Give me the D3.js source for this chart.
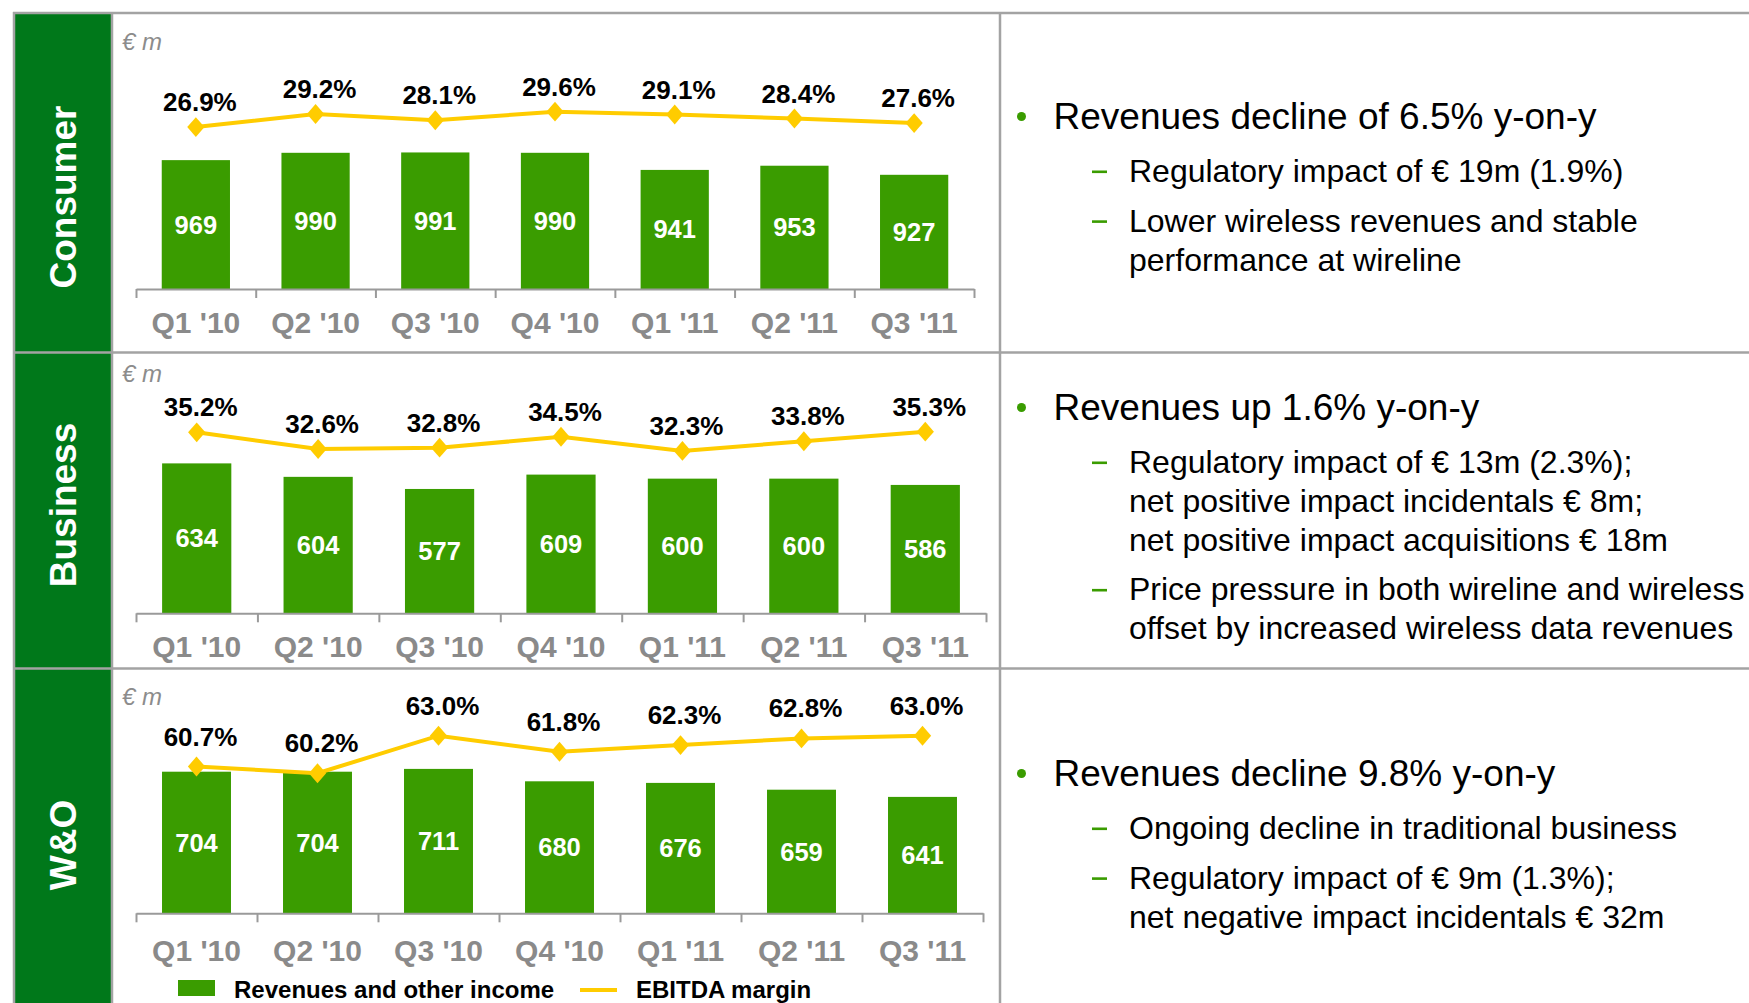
<!DOCTYPE html>
<html>
<head>
<meta charset="utf-8">
<script src="https://cdn.jsdelivr.net/npm/d3@7"></script>
<style>
  body { margin: 0; background: #fff; }
  svg text { font-family: Arial, "Liberation Sans", sans-serif; }
</style>
</head>
<body>
<div id="chart"></div>
<script>
(function(){
  // data
  const quarters = ["Q1 '10", "Q2 '10", "Q3 '10", "Q4 '10", "Q1 '11", "Q2 '11", "Q3 '11"];
  const segments = ["Consumer", "Business", "W&O"];

  const consumerRevenue = [969, 990, 991, 990, 941, 953, 927];
  const consumerMargin = [26.9, 29.2, 28.1, 29.6, 29.1, 28.4, 27.6];
  const businessRevenue = [634, 604, 577, 609, 600, 600, 586];
  const businessMargin = [35.2, 32.6, 32.8, 34.5, 32.3, 33.8, 35.3];
  const woRevenue = [704, 704, 711, 680, 676, 659, 641];
  const woMargin = [60.7, 60.2, 63.0, 61.8, 62.3, 62.8, 63.0];

  const legendLabels = ["Revenues and other income", "EBITDA margin"];
  const unitLabel = "€ m";

  const consumerHead = "Revenues decline of 6.5% y-on-y";
  const consumerSubs = [
    ["Regulatory impact of € 19m (1.9%)"],
    ["Lower wireless revenues and stable", "performance at wireline"]
  ];
  const businessHead = "Revenues up 1.6% y-on-y";
  const businessSubs = [
    ["Regulatory impact of € 13m (2.3%);", "net positive impact incidentals € 8m;", "net positive impact acquisitions € 18m"],
    ["Price pressure in both wireline and wireless", "offset by increased wireless data revenues"]
  ];
  const woHead = "Revenues decline 9.8% y-on-y";
  const woSubs = [
    ["Ongoing decline in traditional business"],
    ["Regulatory impact of € 9m (1.3%);", "net negative impact incidentals € 32m"]
  ];

  const width = 1749, height = 1003;
  const barColor = "#3a9c00", sideColor = "#00781a", lineColor = "#ffcc00", frameColor = "#a3a3a3";
  const left = 14, sideRight = 112, divider = 1000;
  const axisX0 = 136;

  const panels = [
    { name: segments[0], revenue: consumerRevenue, margin: consumerMargin, head: consumerHead, subs: consumerSubs,
      top: 13, bottom: 352.5, axisY: 289, axisX1: 974, barDomain: [600, 1250], barTop: 62,
      marginDomain: [0, 40], marginRange: [280.4, 52.4], labelGap: 16, catGap: 44,
      nameY: 197, unitY: 50, noteY: 129 },
    { name: segments[1], revenue: businessRevenue, margin: businessMargin, head: businessHead, subs: businessSubs,
      top: 352.5, bottom: 668.5, axisY: 613.3, axisX1: 986, barDomain: [300, 650], barTop: 456.2,
      marginDomain: [20, 40], marginRange: [529.6, 401.6], labelGap: 16, catGap: 43.5,
      nameY: 505, unitY: 381.7, noteY: 420 },
    { name: segments[2], revenue: woRevenue, margin: woMargin, head: woHead, subs: woSubs,
      top: 668.5, bottom: height, axisY: 913.3, axisX1: 983, barDomain: [350, 750], barTop: 753.3,
      marginDomain: [50, 65], marginRange: [909.9, 708.9], labelGap: 21, catGap: 48,
      nameY: 845, unitY: 705, noteY: 786 }
  ];

  const svg = d3.select("#chart")
    .append("svg")
    .attr("width", width)
    .attr("height", height)
    .style("display", "block");

  svg.append("rect").attr("width", width).attr("height", height).attr("fill", "#fff");

  panels.forEach(p => {
    // green side cell
    svg.append("rect")
      .attr("x", left).attr("y", p.top)
      .attr("width", sideRight - left).attr("height", p.bottom - p.top)
      .attr("fill", sideColor);

    svg.append("text")
      .attr("transform", `translate(${(left + sideRight) / 2},${p.nameY}) rotate(-90)`)
      .attr("text-anchor", "middle")
      .attr("dominant-baseline", "central")
      .attr("fill", "#fff")
      .attr("font-weight", "bold")
      .attr("font-size", "37px")
      .text(p.name);

    svg.append("text")
      .attr("x", 122).attr("y", p.unitY)
      .attr("fill", "#8c8c8c")
      .attr("font-style", "italic")
      .attr("font-size", "24px")
      .text(unitLabel);

    const xScale = d3.scaleBand()
      .domain(quarters)
      .range([axisX0, p.axisX1])
      .paddingInner(0.43)
      .paddingOuter(0.215);

    const yBar = d3.scaleLinear()
      .domain(p.barDomain)
      .range([p.axisY, p.barTop]);

    const yMargin = d3.scaleLinear()
      .domain(p.marginDomain)
      .range(p.marginRange);

    const cx = (d, i) => xScale(quarters[i]) + xScale.bandwidth() / 2;

    svg.append("g")
      .selectAll("rect")
      .data(p.revenue)
      .join("rect")
      .attr("x", (d, i) => xScale(quarters[i]))
      .attr("y", d => yBar(d))
      .attr("width", xScale.bandwidth())
      .attr("height", d => yBar(p.barDomain[0]) - yBar(d))
      .attr("fill", barColor);

    svg.append("g")
      .selectAll("text")
      .data(p.revenue)
      .join("text")
      .attr("x", cx)
      .attr("y", d => (yBar(d) + p.axisY) / 2)
      .attr("text-anchor", "middle")
      .attr("dominant-baseline", "central")
      .attr("fill", "#fff")
      .attr("font-weight", "bold")
      .attr("font-size", "25.5px")
      .text(d => d);

    // axis with ticks between categories
    const tickScale = d3.scaleLinear().domain([0, quarters.length]).range([axisX0, p.axisX1]);
    const axis = svg.append("g")
      .attr("transform", `translate(0,${p.axisY})`)
      .call(d3.axisBottom(tickScale)
        .tickValues(d3.range(quarters.length + 1))
        .tickSize(9)
        .tickSizeOuter(0)
        .tickFormat(""));
    axis.select(".domain").attr("stroke", "#9a9a9a").attr("stroke-width", 2);
    axis.selectAll(".tick line").attr("stroke", "#9a9a9a").attr("stroke-width", 2);

    svg.append("g")
      .selectAll("text")
      .data(quarters)
      .join("text")
      .attr("x", d => xScale(d) + xScale.bandwidth() / 2)
      .attr("y", p.axisY + p.catGap)
      .attr("text-anchor", "middle")
      .attr("fill", "#8a8a8a")
      .attr("font-weight", "bold")
      .attr("font-size", "30px")
      .text(d => d);

    const line = d3.line()
      .x((d, i) => cx(d, i))
      .y(d => yMargin(d));

    svg.append("path")
      .datum(p.margin)
      .attr("d", line)
      .attr("fill", "none")
      .attr("stroke", lineColor)
      .attr("stroke-width", 4);

    svg.append("g")
      .selectAll("path")
      .data(p.margin)
      .join("path")
      .attr("d", d3.symbol(d3.symbolDiamond2, 190))
      .attr("transform", (d, i) => `translate(${cx(d, i)},${yMargin(d)}) scale(1,1.15)`)
      .attr("fill", lineColor);

    svg.append("g")
      .selectAll("text")
      .data(p.margin)
      .join("text")
      .attr("x", (d, i) => cx(d, i) + 4)
      .attr("y", d => yMargin(d) - p.labelGap)
      .attr("text-anchor", "middle")
      .attr("fill", "#000")
      .attr("font-weight", "bold")
      .attr("font-size", "26px")
      .text(d => d.toFixed(1) + "%");

    // comment column
    const notes = svg.append("g");
    notes.append("circle")
      .attr("cx", 1021.5).attr("cy", p.noteY - 12.5).attr("r", 4.5)
      .attr("fill", barColor);
    notes.append("text")
      .attr("x", 1053.5).attr("y", p.noteY)
      .attr("font-size", "37px")
      .attr("fill", "#000")
      .text(p.head);

    let y = p.noteY + 53;
    p.subs.forEach(lines => {
      notes.append("rect")
        .attr("x", 1092).attr("y", y - 11.5)
        .attr("width", 15).attr("height", 2.6)
        .attr("fill", barColor);
      lines.forEach(t => {
        notes.append("text")
          .attr("x", 1129).attr("y", y)
          .attr("font-size", "32px")
          .attr("fill", "#000")
          .text(t);
        y += 38.8;
      });
      y += 11;
    });
  });

  // frame lines
  const frame = svg.append("g").attr("stroke", frameColor).attr("stroke-width", 2.5);
  frame.append("line").attr("x1", left - 1).attr("x2", width).attr("y1", 13).attr("y2", 13);
  panels.slice(1).forEach(p => {
    frame.append("line").attr("x1", left - 1).attr("x2", width).attr("y1", p.top).attr("y2", p.top);
  });
  [left, sideRight, divider].forEach(x => {
    frame.append("line").attr("x1", x).attr("x2", x).attr("y1", 12).attr("y2", height);
  });

  // legend
  const legend = svg.append("g");
  legend.append("rect")
    .attr("x", 178).attr("y", 980).attr("width", 37).attr("height", 16)
    .attr("fill", barColor);
  legend.append("text")
    .attr("x", 234).attr("y", 998)
    .attr("font-weight", "bold").attr("font-size", "24px")
    .text(legendLabels[0]);
  legend.append("line")
    .attr("x1", 580).attr("x2", 617).attr("y1", 990).attr("y2", 990)
    .attr("stroke", lineColor).attr("stroke-width", 4);
  legend.append("text")
    .attr("x", 636).attr("y", 998)
    .attr("font-weight", "bold").attr("font-size", "24px")
    .text(legendLabels[1]);
})();
</script>
</body>
</html>
